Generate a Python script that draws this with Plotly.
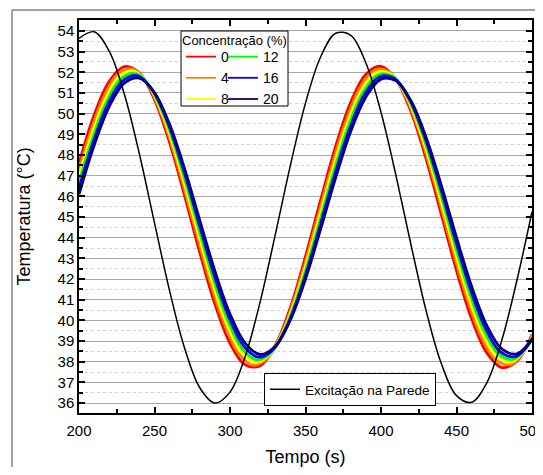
import plotly.graph_objects as go

# ---- data ----
time_s = [200, 210, 220, 230, 240, 250, 260, 270, 280, 290, 300, 310, 320, 330, 340, 350,
          360, 370, 380, 390, 400, 410, 420, 430, 440, 450, 460, 470, 480, 490, 500]

wall_excitation = [53.64, 53.96, 53.02, 50.95, 48.05, 44.72, 41.43, 38.64, 36.74, 36.00, 36.53,
                   38.24, 40.91, 44.15, 47.50, 50.51, 52.74, 53.89, 53.79, 52.45, 50.07, 46.98,
                   43.61, 40.43, 37.90, 36.36, 36.04, 36.97, 39.04, 41.93, 45.26]

temp_0 = [47.60, 49.93, 51.57, 52.28, 51.97, 50.68, 48.60, 46.01, 43.28, 40.79, 38.89, 37.85,
          37.81, 38.79, 40.63, 43.09, 45.82, 48.43, 50.56, 51.91, 52.29, 51.65, 50.07, 47.78,
          45.10, 42.41, 40.08, 38.44, 37.72, 38.03, 39.31]

time_4 = [195.6, 205.6, 215.6, 225.6, 235.6, 245.6, 255.6, 265.6, 275.6, 285.6, 295.6, 305.6,
          315.6, 325.6, 335.6, 345.6, 355.6, 365.6, 375.6, 385.6, 395.6, 405.6, 415.6, 425.6,
          435.6, 445.6, 455.6, 465.6, 475.6, 485.6, 495.6, 505.6]
temp_4 = [46.14, 48.67, 50.68, 51.91, 52.16, 51.41, 49.76, 47.44, 44.79, 42.16, 39.94, 38.42,
          37.83, 38.25, 39.62, 41.75, 44.33, 47.01, 49.40, 51.19, 52.10, 52.02, 50.95, 49.05,
          46.59, 43.90, 41.37, 39.34, 38.12, 37.86, 38.61, 40.25]

time_8 = [196.7, 206.7, 216.7, 226.7, 236.7, 246.7, 256.7, 266.7, 276.7, 286.7, 296.7, 306.7,
          316.7, 326.7, 336.7, 346.7, 356.7, 366.7, 376.7, 386.7, 396.7, 406.7, 416.7, 426.7,
          436.7, 446.7, 456.7, 466.7, 476.7, 486.7, 496.7, 506.7]
temp_8 = [46.13, 48.62, 50.60, 51.80, 52.05, 51.31, 49.69, 47.41, 44.80, 42.22, 40.03, 38.54,
          37.96, 38.38, 39.72, 41.81, 44.35, 46.98, 49.34, 51.09, 51.99, 51.91, 50.86, 49.00,
          46.57, 43.93, 41.44, 39.45, 38.24, 37.99, 38.72, 40.34]

time_12 = [197.8, 207.8, 217.8, 227.8, 237.8, 247.8, 257.8, 267.8, 277.8, 287.8, 297.8, 307.8,
           317.8, 327.8, 337.8, 347.8, 357.8, 367.8, 377.8, 387.8, 397.8, 407.8, 417.8, 427.8,
           437.8, 447.8, 457.8, 467.8, 477.8, 487.8, 497.8, 507.8]
temp_12 = [46.12, 48.56, 50.51, 51.69, 51.94, 51.21, 49.62, 47.38, 44.81, 42.28, 40.12, 38.66,
           38.09, 38.50, 39.82, 41.87, 44.37, 46.96, 49.28, 51.00, 51.88, 51.81, 50.78, 48.94,
           46.55, 43.95, 41.51, 39.55, 38.37, 38.12, 38.84, 40.43]

time_16 = [198.9, 208.9, 218.9, 228.9, 238.9, 248.9, 258.9, 268.9, 278.9, 288.9, 298.9, 308.9,
           318.9, 328.9, 338.9, 348.9, 358.9, 368.9, 378.9, 388.9, 398.9, 408.9, 418.9, 428.9,
           438.9, 448.9, 458.9, 468.9, 478.9, 488.9, 498.9, 508.9]
temp_16 = [46.11, 48.51, 50.43, 51.59, 51.83, 51.12, 49.55, 47.35, 44.83, 42.33, 40.22, 38.78,
           38.22, 38.62, 39.92, 41.94, 44.39, 46.94, 49.21, 50.91, 51.78, 51.70, 50.69, 48.88,
           46.54, 43.98, 41.58, 39.66, 38.49, 38.25, 38.96, 40.52]

temp_20 = [46.10, 48.46, 50.34, 51.48, 51.72, 51.02, 49.48, 47.32, 44.84, 42.39, 40.31, 38.90,
           38.35, 38.75, 40.02, 42.00, 44.41, 46.91, 49.15, 50.81, 51.67, 51.59, 50.60, 48.82,
           46.52, 44.01, 41.65, 39.76, 38.62, 38.38, 39.08]

series_labels = ["0", "4", "8", "12", "16", "20"]
series_x = [time_s, time_4, time_8, time_12, time_16, time_s]
series_y = [temp_0, temp_4, temp_8, temp_12, temp_16, temp_20]
series_colors = ["#FF0000", "#FF8000", "#FFFF00", "#00FF00", "#0000FF", "#000080"]
series_legend = ["legend", "legend", "legend", "legend2", "legend2", "legend2"]

FONT = "Arial, Liberation Sans, sans-serif"

fig = go.Figure()
# curves (thick, as in the reference)
for lab, xs, ys, col in zip(series_labels, series_x, series_y, series_colors):
    fig.add_trace(go.Scatter(x=xs, y=ys, mode="lines", name=lab, showlegend=False,
                             line=dict(color=col, width=2.8, shape="spline", smoothing=1.0)))
# legend keys (thin samples)
for lab, col, lg in zip(series_labels, series_colors, series_legend):
    fig.add_trace(go.Scatter(x=[None], y=[None], mode="lines", name=lab, legend=lg,
                             line=dict(color=col, width=1.8)))

fig.add_trace(go.Scatter(x=time_s, y=wall_excitation, mode="lines", name="Excitação na Parede",
                         legend="legend3",
                         line=dict(color="black", width=1.5, shape="spline", smoothing=1.0)))

# the page body adds an 8px offset; work in page coordinates and convert
OFF = 8
W, H = 543 - OFF, 475 - 2 * OFF
L, R, T, B = 79 - OFF, 532 - OFF, 20 - OFF, 413 - OFF
pw, ph = R - L, B - T


def px(xp):
    return (xp - OFF - L) / pw


def py(yp):
    return 1 - (yp - OFF - T) / ph


fig.update_layout(
    width=W, height=H,
    margin=dict(l=L, r=W - R, t=T, b=H - B, autoexpand=False),
    paper_bgcolor="white", plot_bgcolor="white",
    font=dict(family=FONT, color="black"),
    showlegend=True,
    legend=dict(x=px(181), y=py(41), xanchor="left", yanchor="top",
                bgcolor="rgba(0,0,0,0)", borderwidth=0, font=dict(size=14),
                itemwidth=30, tracegroupgap=0),
    legend2=dict(x=px(223), y=py(41), xanchor="left", yanchor="top",
                 bgcolor="rgba(0,0,0,0)", borderwidth=0, font=dict(size=14),
                 itemwidth=30, tracegroupgap=0),
    legend3=dict(x=px(264), y=py(373), xanchor="left", yanchor="top",
                 bgcolor="white", bordercolor="black", borderwidth=1, font=dict(size=13.5),
                 itemwidth=30),
)

fig.update_xaxes(
    range=[200, 500], dtick=50, tick0=200, automargin=False, ticklabeloverflow="allow",
    showline=True, linecolor="black", linewidth=1.5, mirror="allticks",
    ticks="inside", ticklen=6, tickcolor="black", tickwidth=1.5, ticklabelstandoff=3,
    tickfont=dict(size=15, family=FONT), showgrid=False, zeroline=False,
    minor=dict(dtick=25, ticks="inside", ticklen=4, tickcolor="black", tickwidth=1.5, showgrid=False),
    title=dict(text="Tempo (s)", font=dict(size=18, family=FONT), standoff=13),
)
fig.update_yaxes(
    range=[35.52, 54.53], dtick=1, tick0=36, automargin=False, ticklabeloverflow="allow",
    showline=True, linecolor="black", linewidth=1.5, mirror="allticks",
    ticks="inside", ticklen=6, tickcolor="black", tickwidth=1.5,
    tickfont=dict(size=15, family=FONT), zeroline=False,
    showgrid=True, gridcolor="#A8A8A8", gridwidth=1,
    minor=dict(dtick=0.5, ticks="inside", ticklen=4, tickcolor="black", tickwidth=1.5,
               showgrid=True, gridcolor="#D0D0D0", griddash="dot", gridwidth=1),
    title=dict(text="Temperatura (°C)", font=dict(size=18, family=FONT), standoff=22),
)

# legend frame for the concentration legend
fig.add_shape(type="rect", xref="paper", yref="paper",
              x0=px(181), x1=px(288), y0=py(106), y1=py(31),
              line=dict(color="black", width=1), fillcolor="white", layer="above")
fig.add_annotation(text="Concentração (%)", xref="paper", yref="paper",
                   x=px(234.5), y=py(41), xanchor="center", yanchor="middle",
                   showarrow=False, font=dict(size=13, family=FONT))

# outer gray frame
fig.add_shape(type="line", xref="paper", yref="paper",
              x0=px(12), x1=px(12), y0=py(10), y1=py(480),
              line=dict(color="#808080", width=1.5))
fig.add_shape(type="line", xref="paper", yref="paper",
              x0=px(12), x1=px(560), y0=py(10), y1=py(10),
              line=dict(color="#808080", width=1.5))

fig.write_html("out.html")
